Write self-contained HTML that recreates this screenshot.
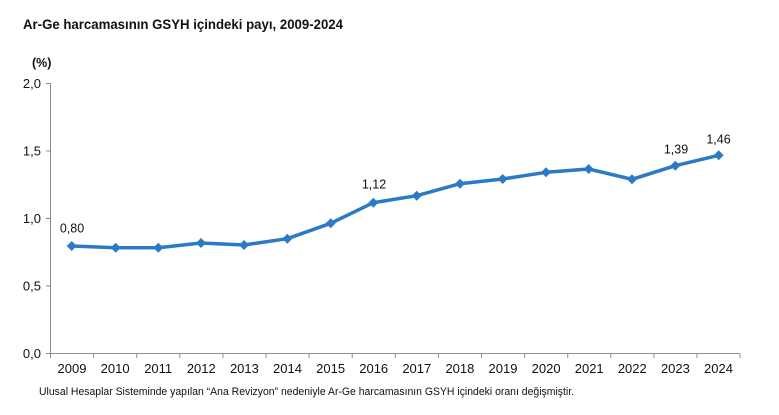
<!DOCTYPE html>
<html><head><meta charset="utf-8"><style>
html,body{margin:0;padding:0;background:#fff;}
svg{display:block;}
text{font-family:"Liberation Sans",Arial,sans-serif;fill:#111;}
</style></head><body>
<svg width="779" height="415" viewBox="0 0 779 415" xmlns="http://www.w3.org/2000/svg">
<text x="23" y="29" font-size="13.5" font-weight="bold" textLength="320" lengthAdjust="spacingAndGlyphs">Ar-Ge harcamasının GSYH içindeki payı, 2009-2024</text>
<text x="32" y="67" font-size="12.5" font-weight="bold">(%)</text>
<g stroke="#8c8c8c" stroke-width="1" fill="none">
<line x1="50.5" y1="83" x2="50.5" y2="354"/>
<line x1="50" y1="353.5" x2="740" y2="353.5"/>
<line x1="46" y1="83.5" x2="50" y2="83.5"/>
<line x1="46" y1="151" x2="50" y2="151"/>
<line x1="46" y1="218.5" x2="50" y2="218.5"/>
<line x1="46" y1="286" x2="50" y2="286"/>
<line x1="46" y1="353.5" x2="50" y2="353.5"/>
</g>
<g stroke="#8c8c8c" stroke-width="1">
<line x1="50.5" y1="354" x2="50.5" y2="358"/><line x1="93.6" y1="354" x2="93.6" y2="358"/><line x1="136.7" y1="354" x2="136.7" y2="358"/><line x1="179.8" y1="354" x2="179.8" y2="358"/><line x1="222.9" y1="354" x2="222.9" y2="358"/><line x1="266" y1="354" x2="266" y2="358"/><line x1="309.1" y1="354" x2="309.1" y2="358"/><line x1="352.2" y1="354" x2="352.2" y2="358"/><line x1="395.3" y1="354" x2="395.3" y2="358"/><line x1="438.4" y1="354" x2="438.4" y2="358"/><line x1="481.5" y1="354" x2="481.5" y2="358"/><line x1="524.6" y1="354" x2="524.6" y2="358"/><line x1="567.7" y1="354" x2="567.7" y2="358"/><line x1="610.8" y1="354" x2="610.8" y2="358"/><line x1="653.9" y1="354" x2="653.9" y2="358"/><line x1="697" y1="354" x2="697" y2="358"/><line x1="740" y1="354" x2="740" y2="358"/>
</g>
<g font-size="13" text-anchor="end">
<text x="41" y="88">2,0</text>
<text x="41" y="155.5">1,5</text>
<text x="41" y="223">1,0</text>
<text x="41" y="290.5">0,5</text>
<text x="41" y="358">0,0</text>
</g>
<g font-size="13" text-anchor="middle">
<text x="72" y="373">2009</text><text x="115.1" y="373">2010</text><text x="158.2" y="373">2011</text><text x="201.3" y="373">2012</text><text x="244.4" y="373">2013</text><text x="287.5" y="373">2014</text><text x="330.6" y="373">2015</text><text x="373.7" y="373">2016</text><text x="416.8" y="373">2017</text><text x="459.9" y="373">2018</text><text x="503" y="373">2019</text><text x="546.1" y="373">2020</text><text x="589.2" y="373">2021</text><text x="632.3" y="373">2022</text><text x="675.4" y="373">2023</text><text x="718.5" y="373">2024</text>
</g>
<polyline fill="none" stroke="#2b7bc4" stroke-width="3.5" stroke-linejoin="round" points="71.7,246 115.7,247.7 158.3,247.7 201,243 244,245 287.3,238.7 330.7,223.3 373.3,202.7 416.7,195.7 460,183.7 502.7,179 546,172.3 588.7,169 632,179.3 675.3,165.7 718.7,155.3"/>
<g fill="#2b7bc4">
<path d="M71.7,241l5,5l-5,5l-5,-5z"/>
<path d="M115.7,242.7l5,5l-5,5l-5,-5z"/>
<path d="M158.3,242.7l5,5l-5,5l-5,-5z"/>
<path d="M201,238l5,5l-5,5l-5,-5z"/>
<path d="M244,240l5,5l-5,5l-5,-5z"/>
<path d="M287.3,233.7l5,5l-5,5l-5,-5z"/>
<path d="M330.7,218.3l5,5l-5,5l-5,-5z"/>
<path d="M373.3,197.7l5,5l-5,5l-5,-5z"/>
<path d="M416.7,190.7l5,5l-5,5l-5,-5z"/>
<path d="M460,178.7l5,5l-5,5l-5,-5z"/>
<path d="M502.7,174l5,5l-5,5l-5,-5z"/>
<path d="M546,167.3l5,5l-5,5l-5,-5z"/>
<path d="M588.7,164l5,5l-5,5l-5,-5z"/>
<path d="M632,174.3l5,5l-5,5l-5,-5z"/>
<path d="M675.3,160.7l5,5l-5,5l-5,-5z"/>
<path d="M718.7,150.3l5,5l-5,5l-5,-5z"/>
</g>
<g font-size="12.5" text-anchor="middle">
<text x="72" y="232.5">0,80</text>
<text x="374" y="188.5">1,12</text>
<text x="676" y="153.5">1,39</text>
<text x="718.5" y="143.5">1,46</text>
</g>
<text x="39" y="395" font-size="11" textLength="535" lengthAdjust="spacingAndGlyphs">Ulusal Hesaplar Sisteminde yapılan “Ana Revizyon” nedeniyle Ar-Ge harcamasının GSYH içindeki oranı değişmiştir.</text>
</svg>
</body></html>
